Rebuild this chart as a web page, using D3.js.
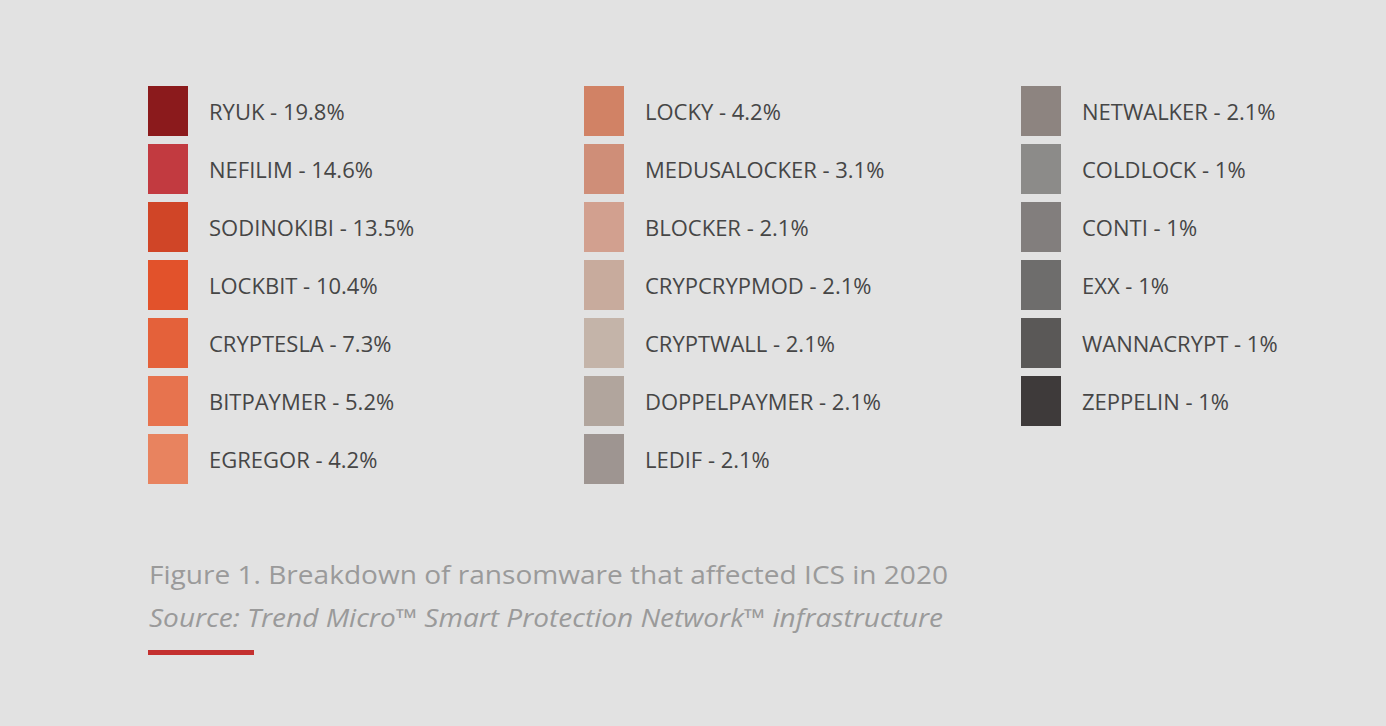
<!DOCTYPE html>
<html>
<head>
<meta charset="utf-8">
<script src="https://cdn.jsdelivr.net/npm/d3@7"></script>
<style>
  body { margin: 0; background: #e2e2e2; }
  svg { display: block; }
  .label { font-family: "Open Sans", sans-serif; font-size: 22px; fill: #464646; }
  .caption { font-family: "Open Sans", sans-serif; font-size: 25px; fill: #9a9a9a; }
</style>
</head>
<body>
<svg class="legend" width="1386" height="726"></svg>
<script>
// ransomware families, share of detections (%)
const names = ["RYUK", "NEFILIM", "SODINOKIBI", "LOCKBIT", "CRYPTESLA", "BITPAYMER", "EGREGOR",
  "LOCKY", "MEDUSALOCKER", "BLOCKER", "CRYPCRYPMOD", "CRYPTWALL", "DOPPELPAYMER", "LEDIF",
  "NETWALKER", "COLDLOCK", "CONTI", "EXX", "WANNACRYPT", "ZEPPELIN"];
const shares = [19.8, 14.6, 13.5, 10.4, 7.3, 5.2, 4.2,
  4.2, 3.1, 2.1, 2.1, 2.1, 2.1, 2.1,
  2.1, 1, 1, 1, 1, 1];
const colors = ["#8b1a1c", "#c23a40", "#d04527", "#e2522b", "#e4613a", "#e7734e", "#e8835f",
  "#d18265", "#cf8e78", "#d2a08f", "#c8ab9d", "#c4b4a9", "#b1a59d", "#9e9591",
  "#8d8480", "#8c8b89", "#827e7d", "#6e6d6c", "#5a5857", "#3e3a3a"];
const perColumn = 7;
const caption = "Figure 1. Breakdown of ransomware that affected ICS in 2020";
const source = "Source: Trend Micro\u2122 Smart Protection Network\u2122 infrastructure";

const fmt = v => Number.isInteger(v) ? `${v}%` : `${v.toFixed(1)}%`;

const data = names.map((n, i) => ({
  name: n, share: shares[i], color: colors[i],
  col: Math.floor(i / perColumn), row: i % perColumn
}));

const svg = d3.select('.legend');

const xCol = d3.scaleOrdinal().domain([0, 1, 2]).range([148, 584, 1021]);
const yRow = d3.scaleLinear().domain([0, 1]).range([86, 144]);
const boxW = 40, boxH = 50;

const items = svg.selectAll('g.item')
  .data(data)
  .join('g')
  .attr('class', 'item')
  .attr('transform', d => `translate(${xCol(d.col)}, ${yRow(d.row)})`);

items.append('rect')
  .attr('width', boxW)
  .attr('height', boxH)
  .attr('fill', d => d.color);

items.append('text')
  .attr('class', 'label')
  .attr('x', 61)
  .attr('y', boxH / 2 + 1)
  .attr('dy', '0.35em')
  .text(d => `${d.name} - ${fmt(d.share)}`);

svg.append('text')
  .attr('class', 'caption')
  .attr('x', 149)
  .attr('y', 584)
  .attr('textLength', 799)
  .attr('lengthAdjust', 'spacingAndGlyphs')
  .text(caption);

svg.append('text')
  .attr('class', 'caption')
  .attr('x', 149)
  .attr('y', 627)
  .style('font-style', 'italic')
  .attr('textLength', 794)
  .attr('lengthAdjust', 'spacingAndGlyphs')
  .text(source);

svg.append('rect')
  .attr('x', 148)
  .attr('y', 650)
  .attr('width', 106)
  .attr('height', 5)
  .attr('fill', '#c4302f');
</script>
</body>
</html>
